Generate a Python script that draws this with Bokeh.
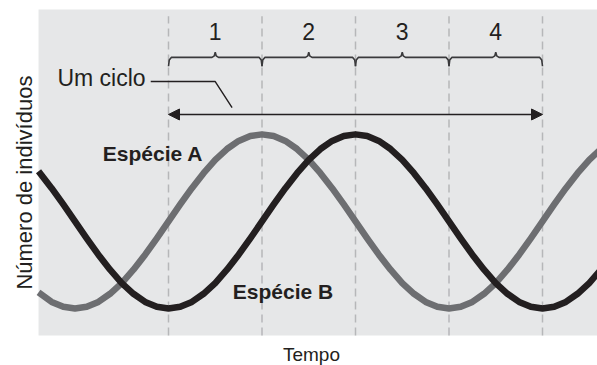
import math
from bokeh.plotting import figure
from bokeh.models import Range1d, Arrow, NormalHead
from bokeh.core.properties import value
from bokeh.embed import file_html
from bokeh.resources import INLINE

# ---- data ----
tempo = [-1.39, -1.25, -1.125, -1.0, -0.875, -0.75, -0.625, -0.5, -0.375, -0.25, -0.125,
         0.0, 0.125, 0.25, 0.375, 0.5, 0.625, 0.75, 0.875, 1.0, 1.125, 1.25, 1.375,
         1.5, 1.625, 1.75, 1.875, 2.0, 2.125, 2.25, 2.375, 2.5, 2.625, 2.75, 2.875,
         3.0, 3.125, 3.25, 3.375, 3.5, 3.625, 3.75, 3.875, 4.0, 4.125, 4.25, 4.375,
         4.5, 4.625]
especie_a = [13.2, 10.3, 8.8, 8.3, 8.8, 10.3, 12.8, 16.1, 20.2, 24.8, 29.8,
             35.0, 40.2, 45.2, 49.8, 53.9, 57.2, 59.7, 61.2, 61.7, 61.2, 59.7, 57.2,
             53.9, 49.8, 45.2, 40.2, 35.0, 29.8, 24.8, 20.2, 16.1, 12.8, 10.3, 8.8,
             8.3, 8.8, 10.3, 12.8, 16.1, 20.2, 24.8, 29.8, 35.0, 40.2, 45.2, 49.8,
             53.9, 57.2]
especie_b = [50.4, 45.2, 40.2, 35.0, 29.8, 24.8, 20.2, 16.1, 12.8, 10.3, 8.8,
             8.3, 8.8, 10.3, 12.8, 16.1, 20.2, 24.8, 29.8, 35.0, 40.2, 45.2, 49.8,
             53.9, 57.2, 59.7, 61.2, 61.7, 61.2, 59.7, 57.2, 53.9, 49.8, 45.2, 40.2,
             35.0, 29.8, 24.8, 20.2, 16.1, 12.8, 10.3, 8.8, 8.3, 8.8, 10.3, 12.8,
             16.1, 20.2]
cycle_bounds = [0, 1, 2, 3, 4]
phase_labels = ["1", "2", "3", "4"]

FONT = "Liberation Sans"
DARK = "#231f20"
GRAY = "#6d6e71"

p = figure(width=597, height=365, output_backend="svg", toolbar_location=None,
           x_range=Range1d(-1.7968, 4.5882), y_range=Range1d(-9.20, 102.76),
           x_axis_location=None, y_axis_location=None,
           min_border_left=0, min_border_right=0, min_border_top=0, min_border_bottom=0)
p.background_fill_color = "white"
p.border_fill_color = "white"
p.outline_line_color = None
p.xgrid.visible = False
p.ygrid.visible = False

# plotting panel (grey field)
p.quad(left=-1.39, right=4.6, bottom=0, top=100.0, fill_color="#e6e7e8", line_color=None)

# dashed cycle boundaries
p.segment(x0=cycle_bounds, y0=[0] * len(cycle_bounds), x1=cycle_bounds,
          y1=[97.9] * len(cycle_bounds), line_color="#b6b7b9", line_width=1.5,
          line_dash="8 5")

# curves
p.line(tempo, especie_a, line_color=GRAY, line_width=6.5, line_join="round")
p.line(tempo, especie_b, line_color=DARK, line_width=6.5, line_join="round")

# braces
bx, by = [], []
yb, ycurl, ycusp = 85.3, 82.6, 86.9
for a, b in zip(cycle_bounds[:-1], cycle_bounds[1:]):
    m = (a + b) / 2
    bx.append([a, a + 0.008, a + 0.03, m - 0.035, m - 0.01, m, m + 0.01, m + 0.035,
               b - 0.03, b - 0.008, b])
    by.append([ycurl, yb - 0.8, yb, yb, yb + 0.5, ycusp, yb + 0.5, yb, yb, yb - 0.8, ycurl])
p.multi_line(bx, by, line_color="#3a3a3c", line_width=1.6)

mids = [(a + b) / 2 for a, b in zip(cycle_bounds[:-1], cycle_bounds[1:])]
p.text(x=mids, y=[93.3] * 4, text=phase_labels, text_font=value(FONT),
       text_font_size="23px", text_color=DARK, text_align="center",
       text_baseline="middle")

# cycle arrow
p.add_layout(Arrow(x_start=cycle_bounds[0], x_end=cycle_bounds[-1], y_start=67.8, y_end=67.8,
                   line_color=DARK, line_width=1.5,
                   start=NormalHead(size=11, fill_color=DARK, line_color=DARK),
                   end=NormalHead(size=11, fill_color=DARK, line_color=DARK)))
p.text(x=[-0.245], y=[78.9], text=["Um ciclo"], text_font=value(FONT),
       text_font_size="23px", text_color=DARK, text_align="right", text_baseline="middle")
p.line([-0.19, 0.50, 0.68], [77.9, 77.9, 69.9], line_color=DARK, line_width=1.4)

# species labels
p.text(x=[-0.166], y=[55.8], text=["Espécie A"], text_font=value(FONT),
       text_font_size="21px", text_font_style="bold", text_color=DARK,
       text_align="center", text_baseline="middle")
p.text(x=[1.225], y=[13.4], text=["Espécie B"], text_font=value(FONT),
       text_font_size="21px", text_font_style="bold", text_color=DARK,
       text_align="center", text_baseline="middle")

# axis titles
p.text(x=[1.529], y=[-5.8], text=["Tempo"], text_font=value(FONT),
       text_font_size="19px", text_color=DARK, text_align="center", text_baseline="middle")
p.text(x=[-1.540], y=[46.9], text=["Número de indivíduos"], text_font=value(FONT),
       text_font_size="22px", text_color=DARK, text_align="center",
       text_baseline="alphabetic", angle=math.pi / 2)

open("out.html", "w").write(file_html(p, INLINE))
